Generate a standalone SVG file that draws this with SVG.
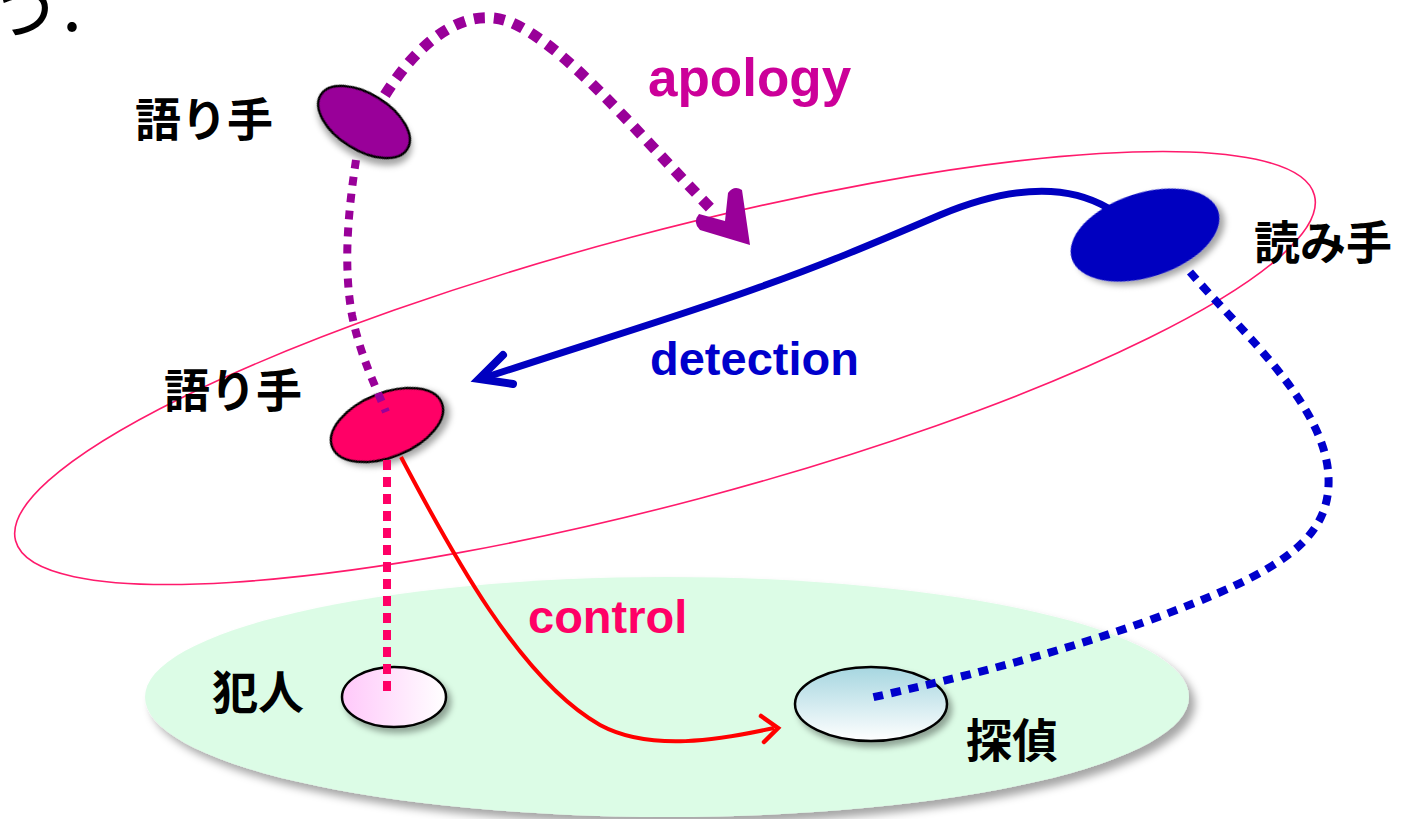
<svg xmlns="http://www.w3.org/2000/svg" width="1405" height="819" viewBox="0 0 1405 819">
  <style>
    .jp { font-family: "Noto Sans CJK JP", "Noto Sans", sans-serif; font-weight: bold; font-size: 46px; fill: #000; }
    .lbl { font-family: "Liberation Sans", Arial, sans-serif; font-weight: bold; font-size: 47px; }
    .node { stroke: #000; stroke-width: 2.5; }
    .dot { fill: none; stroke-linecap: butt; }
  </style>
  <defs>
    <filter id="shadow" x="-20%" y="-20%" width="150%" height="160%">
      <feDropShadow dx="4" dy="5" stdDeviation="3" flood-color="#000" flood-opacity="0.35"/>
    </filter>
    <filter id="bigShadow" x="-10%" y="-10%" width="125%" height="140%">
      <feDropShadow dx="6" dy="7" stdDeviation="4" flood-color="#000" flood-opacity="0.35"/>
    </filter>
    <linearGradient id="pinkFade" x1="0" y1="0" x2="1" y2="0">
      <stop offset="0" stop-color="#ffc8fa"/>
      <stop offset="1" stop-color="#ffffff"/>
    </linearGradient>
    <linearGradient id="blueFade" x1="0" y1="0" x2="0" y2="1">
      <stop offset="0" stop-color="#a6d6e0"/>
      <stop offset="1" stop-color="#ffffff"/>
    </linearGradient>
  </defs>

  <rect width="1405" height="819" fill="#ffffff"/>

  <!-- trailing characters of the preceding line -->
  <text x="-10" y="31" font-family="Noto Sans CJK JP, sans-serif" font-size="72">う.</text>

  <!-- ground plane (story world) -->
  <ellipse id="ground" cx="667" cy="697" rx="522" ry="120" fill="#dcfce6" filter="url(#bigShadow)"/>

  <!-- narration orbit -->
  <ellipse id="orbit" cx="665" cy="368" rx="672" ry="135" transform="rotate(-14.9 665 368)" fill="none" stroke="#ff1a6c" stroke-width="1.6"/>

  <!-- nodes -->
  <g id="narrator-top">
    <ellipse class="node" cx="364" cy="122" rx="51" ry="28" transform="rotate(32 364 122)" fill="#990099" filter="url(#shadow)"/>
    <text class="jp" x="135" y="136">語り手</text>
  </g>
  <g id="narrator-mid">
    <ellipse class="node" cx="387" cy="425" rx="59" ry="32" transform="rotate(-22 387 425)" fill="#ff0066" filter="url(#shadow)"/>
    <text class="jp" x="164" y="407">語り手</text>
  </g>
  <g id="reader">
    <ellipse cx="1145" cy="235" rx="77" ry="42" transform="rotate(-18 1145 235)" fill="#0000c0" filter="url(#shadow)"/>
    <text class="jp" x="1254" y="259">読み手</text>
  </g>
  <g id="culprit">
    <ellipse class="node" cx="394" cy="697" rx="52" ry="30" fill="url(#pinkFade)" filter="url(#shadow)"/>
    <text class="jp" x="212" y="709">犯人</text>
  </g>
  <g id="detective">
    <ellipse class="node" cx="871" cy="704" rx="76" ry="37" fill="url(#blueFade)" filter="url(#shadow)"/>
    <text class="jp" x="966" y="757">探偵</text>
  </g>

  <!-- connectors -->
  <g id="connectors">
    <!-- apology: narrator (top) to the reader's line -->
    <path class="dot" d="M385 95 C420 40 465 5 510 22 C565 45 630 125 716 214" stroke="#990099" stroke-width="11" stroke-dasharray="11 9"/>
    <path d="M750 245 L700 230 Q692 222 699 214 L725 221 L728 193 Q734 185 742 190 Z" fill="#990099"/>

    <!-- narrator (top) down to narrator (mid) -->
    <path class="dot" d="M356 160 C350 200 342 260 352 315 C360 355 375 385 386 412" stroke="#990099" stroke-width="8" stroke-dasharray="9 8"/>

    <!-- detection: reader to narrator (mid) -->
    <path d="M1108 208 C1060 180 1000 190 940 215 C870 245 820 266 760 287 C680 316 580 346 484 378" fill="none" stroke="#0000c0" stroke-width="7" stroke-linecap="round"/>
    <polyline points="503,355 479,379 513,384" fill="none" stroke="#0000c0" stroke-width="8" stroke-linecap="round" stroke-linejoin="miter"/>

    <!-- reader down to detective -->
    <path class="dot" d="M1190 272 C1240 330 1320 400 1328 470 C1335 540 1280 572 1150 620 C1050 656 950 680 870 698" stroke="#0000cc" stroke-width="8" stroke-dasharray="10 8"/>

    <!-- narrator (mid) down to culprit -->
    <path class="dot" d="M387 460 L387 698" stroke="#ff0066" stroke-width="8" stroke-dasharray="10 7"/>

    <!-- control: narrator (mid) to detective -->
    <path d="M401 457 C450 550 520 680 600 725 C650 752 720 740 774 728" fill="none" stroke="#ff0000" stroke-width="4"/>
    <polyline points="761,716 778,728 764,742" fill="none" stroke="#ff0000" stroke-width="4.5" stroke-linecap="round"/>
  </g>

  <!-- relation labels -->
  <text class="lbl" x="648" y="96" fill="#cc0099" style="font-size:53px">apology</text>
  <text class="lbl" x="650" y="375" fill="#0000cc">detection</text>
  <text class="lbl" x="528" y="633" fill="#ff0066">control</text>
</svg>
